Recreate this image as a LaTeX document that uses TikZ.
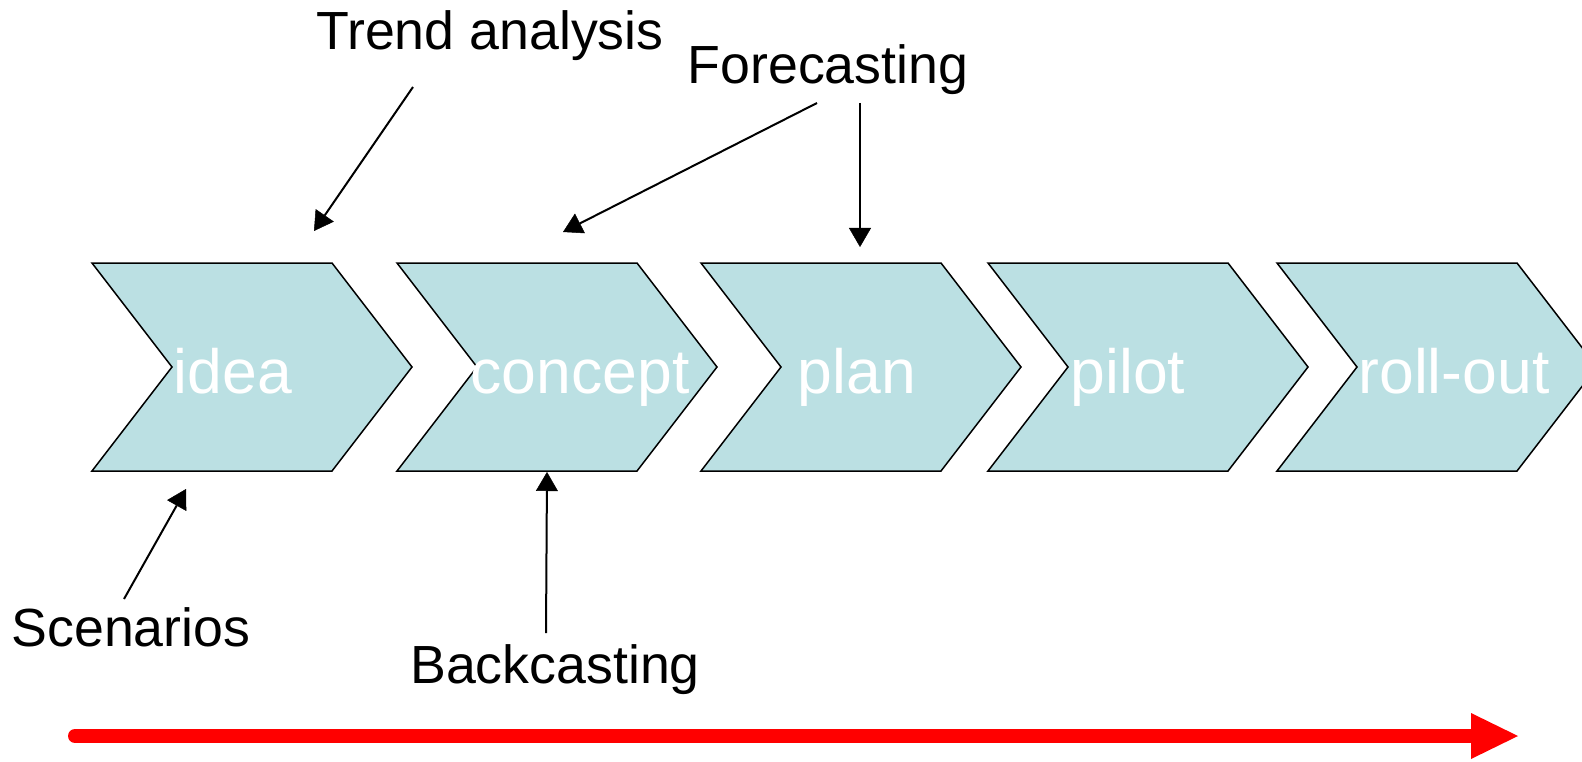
\documentclass[tikz,border=0pt]{standalone}
\usepackage{fontspec}
\setmainfont{Liberation Sans}
\usetikzlibrary{arrows.meta}
\definecolor{stagefill}{HTML}{BBE0E3}
\definecolor{timeline}{HTML}{FF0000}

\begin{document}
\begin{tikzpicture}[x=1pt,y=-1pt,
  stage/.style={draw=black, line width=1.5pt, fill=stagefill, line join=miter},
  stagelabel/.style={text=white, font=\fontsize{62.5}{70}\selectfont, inner sep=0pt, anchor=base},
  method/.style={text=black, font=\fontsize{53.7}{60}\selectfont, inner sep=0pt, anchor=base},
  pointer/.style={draw=black, line width=2pt, -{Triangle[length=19pt,width=22pt,line width=0.5pt]}},
  chevron/.pic={\path[stage] (0,0) -- (240,0) -- (320,104) -- (240,208) -- (0,208) -- (80,104) -- cycle;},
]
\useasboundingbox (0,0) rectangle (1582,762);
\clip (0,0) rectangle (1582,762);

% process stages
\pic at (92,263)   {chevron};
\pic at (397,263)  {chevron};
\pic at (701,263)  {chevron};
\pic at (988,263)  {chevron};
\pic at (1277,263) {chevron};

\node[stagelabel] (idea)    at (233,393)  {idea};
\node[stagelabel] (concept) at (580,393)  {concept};
\node[stagelabel] (plan)    at (857,393)  {plan};
\node[stagelabel] (pilot)   at (1128,393) {pilot};
\node[stagelabel] (rollout) at (1454,393) {roll-out};

% methods
\node[method] (trend)    at (490,50)  {Trend analysis};
\node[method] (forecast) at (828,84)  {Forecasting};
\node[method] (scen)     at (131,646) {Scenarios};
\node[method] (back)     at (555,683) {Backcasting};

% pointer ends
\coordinate (trendFrom) at (413,87);
\coordinate (trendTo)   at (314,231);
\coordinate (foreFromA) at (817,103);
\coordinate (foreToA)   at (563,232);
\coordinate (foreFromB) at (860,103);
\coordinate (foreToB)   at (860,247);
\coordinate (scenFrom)  at (124,599);
\coordinate (scenTo)    at (186,489);
\coordinate (backFrom)  at (546,633);
\coordinate (backTo)    at (547,472);

\draw[pointer] (trendFrom) -- (trendTo);
\draw[pointer] (foreFromA) -- (foreToA);
\draw[pointer] (foreFromB) -- (foreToB);
\draw[pointer] (scenFrom) -- (scenTo);
\draw[pointer] (backFrom) -- (backTo);

% time line
\coordinate (timeStart) at (75,736);
\coordinate (timeEnd)   at (1518,736);
\draw[timeline, line width=14pt, line cap=round,
      -{Triangle[length=47pt,width=46pt,line width=0pt]}] (timeStart) -- (timeEnd);
\end{tikzpicture}
\end{document}
